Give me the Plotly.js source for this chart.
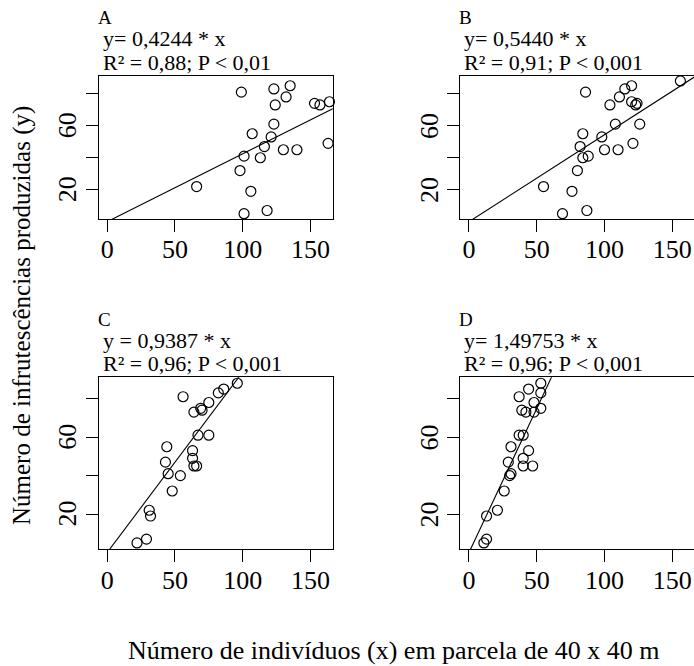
<!DOCTYPE html>
<html>
<head>
<meta charset="utf-8">
<script src="https://cdn.plot.ly/plotly-3.0.1.min.js"></script>
<style>html,body{margin:0;padding:0;background:#fff;}#chart{width:694px;height:666px;}</style>
</head>
<body>
<div id="chart"></div>
<script>
// Panel A
const A_x = [99,123,135,132,153,157,164,124,123,107,121,116,130,140,163,101,113,98,66,106,101,118];
const A_y = [81,83,85,78,74,73,75,73,61,55,53,47,45,45,49,41,40,32,22,19,5,7];
// Panel B
const B_x = [86,120,115,111,156,120,123,124,104,108,126,84,98,82,100,110,121,84,88,80,55,76,69,87];
const B_y = [81,85,83,78,88,75,73,74,73,61,61,55,53,47,45,45,49,40,41,32,22,19,5,7];
// Panel C
const C_x = [96,86,82,75,56,69,70,64,67,75,44,63,63,43,64,66,45,54,48,31,32,29,22];
const C_y = [88,85,83,78,81,75,74,73,61,61,55,53,49,47,45,45,41,40,32,22,19,7,5];
// Panel D
const D_x = [53,44,53,37,48,53,39,42,48,37,40,31,44,40,29,40,47,31,30,26,21,13,13,11];
const D_y = [88,85,83,81,78,75,74,73,73,61,61,55,53,49,47,45,45,41,40,32,22,19,7,5];

const panelLetters = ["A","B","C","D"];
const slopes = [0.4244, 0.5440, 0.9387, 1.49753];
const eqTexts = ["y= 0,4244 * x","y= 0,5440 * x","y = 0,9387 * x","y= 1,49753 * x"];
const statTexts = ["R² = 0,88; P < 0,01","R² = 0,91; P < 0,001","R² = 0,96; P < 0,001","R² = 0,96; P < 0,001"];
const xTickVals = [0,50,100,150];
const yTickVals = [20,40,60,80];
const yTickText = ["20","","60",""];
const xTitle = "Número de indivíduos (x) em parcela de 40 x 40 m";
const yTitle = "Número de infrutescências produzidas (y)";

const W = 694, H = 666;
const FONT = "'Liberation Serif', 'Times New Roman', serif";
const xs = [A_x,B_x,C_x,D_x], ys = [A_y,B_y,C_y,D_y];

// pixel boxes [left,right,top,bottom]
const boxes = [[98.5,332.7,76,219],[460.3,694,76,219],[98.5,332.7,377.3,549.3],[460.3,694,377.3,549.3]];
const xMin = -6.4, pxPerUnit = (332.7-98.5)/172.8;
const yRange = [1.7, 91.1];

const traces = [];
const layout = {
  width: W, height: H,
  margin: {l:0,r:0,t:0,b:0},
  paper_bgcolor: "#fff", plot_bgcolor: "#fff",
  showlegend: false,
  font: {family: FONT, color: "#000"},
  annotations: []
};

for (let i = 0; i < 4; i++) {
  const sfx = i === 0 ? "" : String(i+1);
  const b = boxes[i];
  const xMax = xMin + (b[1]-b[0])/pxPerUnit;
  traces.push({
    x: xs[i], y: ys[i], type: "scatter", mode: "markers",
    xaxis: "x"+sfx, yaxis: "y"+sfx,
    marker: {symbol: "circle-open", size: 10, color: "#000", line: {width: 1.2, color: "#000"}},
    cliponaxis: false, hoverinfo: "skip"
  });
  const lx = [xMin-20, xMax+20];
  traces.push({
    x: lx, y: lx.map(v => slopes[i]*v), type: "scatter", mode: "lines",
    xaxis: "x"+sfx, yaxis: "y"+sfx,
    line: {color: "#000", width: 1.1}, hoverinfo: "skip"
  });
  layout["xaxis"+sfx] = {
    domain: [b[0]/W, b[1]/W], range: [xMin, xMax], autorange: false,
    anchor: "y"+sfx,
    showgrid: false, zeroline: false,
    showline: true, mirror: true, linecolor: "#000", linewidth: 1,
    ticks: "outside", ticklen: 12, tickwidth: 1, tickcolor: "#000",
    tickvals: xTickVals, ticktext: xTickVals.map(String),
    tickfont: {family: FONT, size: 26, color: "#000"},
    ticklabelstandoff: -5
  };
  layout["yaxis"+sfx] = {
    domain: [1-b[3]/H, 1-b[2]/H], range: yRange, autorange: false,
    anchor: "x"+sfx,
    showgrid: false, zeroline: false,
    showline: true, mirror: true, linecolor: "#000", linewidth: 1,
    ticks: "outside", ticklen: 12, tickwidth: 1, tickcolor: "#000",
    tickvals: yTickVals, showticklabels: false
  };
  // y tick labels (rotated, R style) placed at the tick values on the y scale
  yTickVals.forEach((v, k) => {
    if (!yTickText[k]) return;
    layout.annotations.push({
      text: yTickText[k], xref: "paper", yref: "y"+sfx, x: (b[0]-31)/W, y: v,
      xanchor: "center", yanchor: "middle", textangle: -90, showarrow: false,
      font: {family: FONT, size: 26, color: "#000"}
    });
  });
  const top = b[2];
  const lx0 = b[0];
  layout.annotations.push(
    {text: panelLetters[i], xref:"paper", yref:"paper", x: (lx0-3)/W, y: 1-(top-58)/H,
     xanchor:"left", yanchor:"middle", showarrow:false, font:{family:FONT,size:19,color:"#000"}},
    {text: eqTexts[i], xref:"paper", yref:"paper", x: (lx0+2)/W, y: 1-(top-37)/H,
     xanchor:"left", yanchor:"middle", showarrow:false, font:{family:FONT,size:22,color:"#000"}},
    {text: statTexts[i], xref:"paper", yref:"paper", x: (lx0+2)/W, y: 1-(top-14)/H,
     xanchor:"left", yanchor:"middle", showarrow:false, font:{family:FONT,size:22,color:"#000"}}
  );
}

layout.annotations.push(
  {text: xTitle, xref:"paper", yref:"paper", x: 393/W, y: 1-650/H, xanchor:"center", yanchor:"middle",
   showarrow:false, font:{family:FONT,size:26,color:"#000"}},
  {text: yTitle, xref:"paper", yref:"paper", x: 22/W, y: 1-316/H, xanchor:"center", yanchor:"middle",
   textangle: -90, showarrow:false, font:{family:FONT,size:25,color:"#000"}}
);

Plotly.newPlot("chart", traces, layout, {staticPlot: true, displayModeBar: false});
</script>
</body>
</html>
